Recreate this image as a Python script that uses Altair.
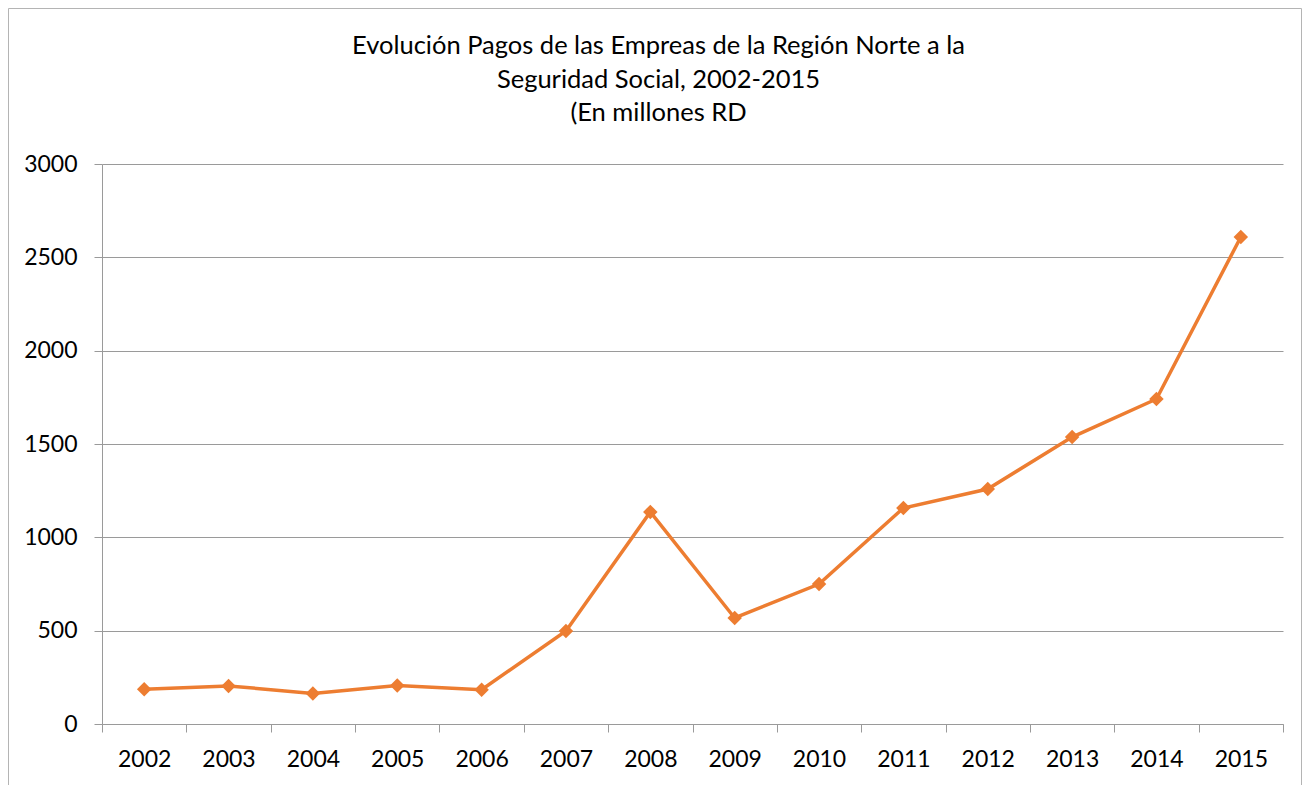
import altair as alt
import pandas as pd

# ---- data ----
years = ["2002", "2003", "2004", "2005", "2006", "2007", "2008",
         "2009", "2010", "2011", "2012", "2013", "2014", "2015"]
values = [186, 204, 164, 206, 184, 498, 1136, 568, 750, 1157, 1259, 1537, 1741, 2609]
y_ticks = [0, 500, 1000, 1500, 2000, 2500, 3000]
title_lines = [
    "Evolución Pagos de las Empreas de la Región Norte a la",
    "Seguridad Social, 2002-2015",
    "(En millones RD",
]

df = pd.DataFrame({"year": years, "value": values})

GRAY = "#9A9A9A"
ORANGE = "#ED7D31"
FONT = "Lato"
W, H = 1181, 560

x_enc = alt.X(
    "year:N",
    sort=years,
    scale=alt.Scale(type="band", paddingInner=0, paddingOuter=0),
    axis=alt.Axis(
        title=None, labelAngle=0, tickBand="extent", tickSize=8,
        tickColor=GRAY, domainColor=GRAY, grid=False,
        labelPadding=16, labelFont=FONT, labelFontSize=23, labelColor="black",
    ),
)
y_enc = alt.Y(
    "value:Q",
    scale=alt.Scale(domain=[0, 3000], nice=False),
    axis=alt.Axis(
        title=None, values=y_ticks, format="d", tickSize=8, tickColor=GRAY,
        domainColor=GRAY, gridColor=GRAY, gridWidth=1, grid=True,
        labelPadding=17, labelFont=FONT, labelFontSize=23, labelColor="black",
    ),
)

base = alt.Chart(df)
line = base.mark_line(color=ORANGE, strokeWidth=3.5).encode(x=x_enc, y=y_enc)
pts = base.mark_point(shape="diamond", filled=True, size=210, color=ORANGE,
                      opacity=1).encode(x=x_enc, y=y_enc)

one = alt.Data(values=[{}])
border = alt.Chart(one).mark_rect(
    fillOpacity=0, stroke="#B4B4B4", strokeWidth=1
).encode(
    x=alt.value(-93.5), x2=alt.value(1199.5),
    y=alt.value(-155.5), y2=alt.value(700),
)
title = alt.Chart(one).mark_text(
    text=title_lines, font=FONT, fontSize=25.5, color="black",
    align="center", baseline="middle", lineHeight=33.5,
).encode(x=alt.value(556.5), y=alt.value(-118))

chart = alt.layer(border, line, pts, title).properties(
    width=W, height=H,
    padding={"left": 94, "top": 156, "right": 21, "bottom": 61},
    autosize=alt.AutoSizeParams(type="none"),
    background="white",
).configure_view(stroke=None)

chart.save("out.html", embed_options={"renderer": "svg", "actions": False})
